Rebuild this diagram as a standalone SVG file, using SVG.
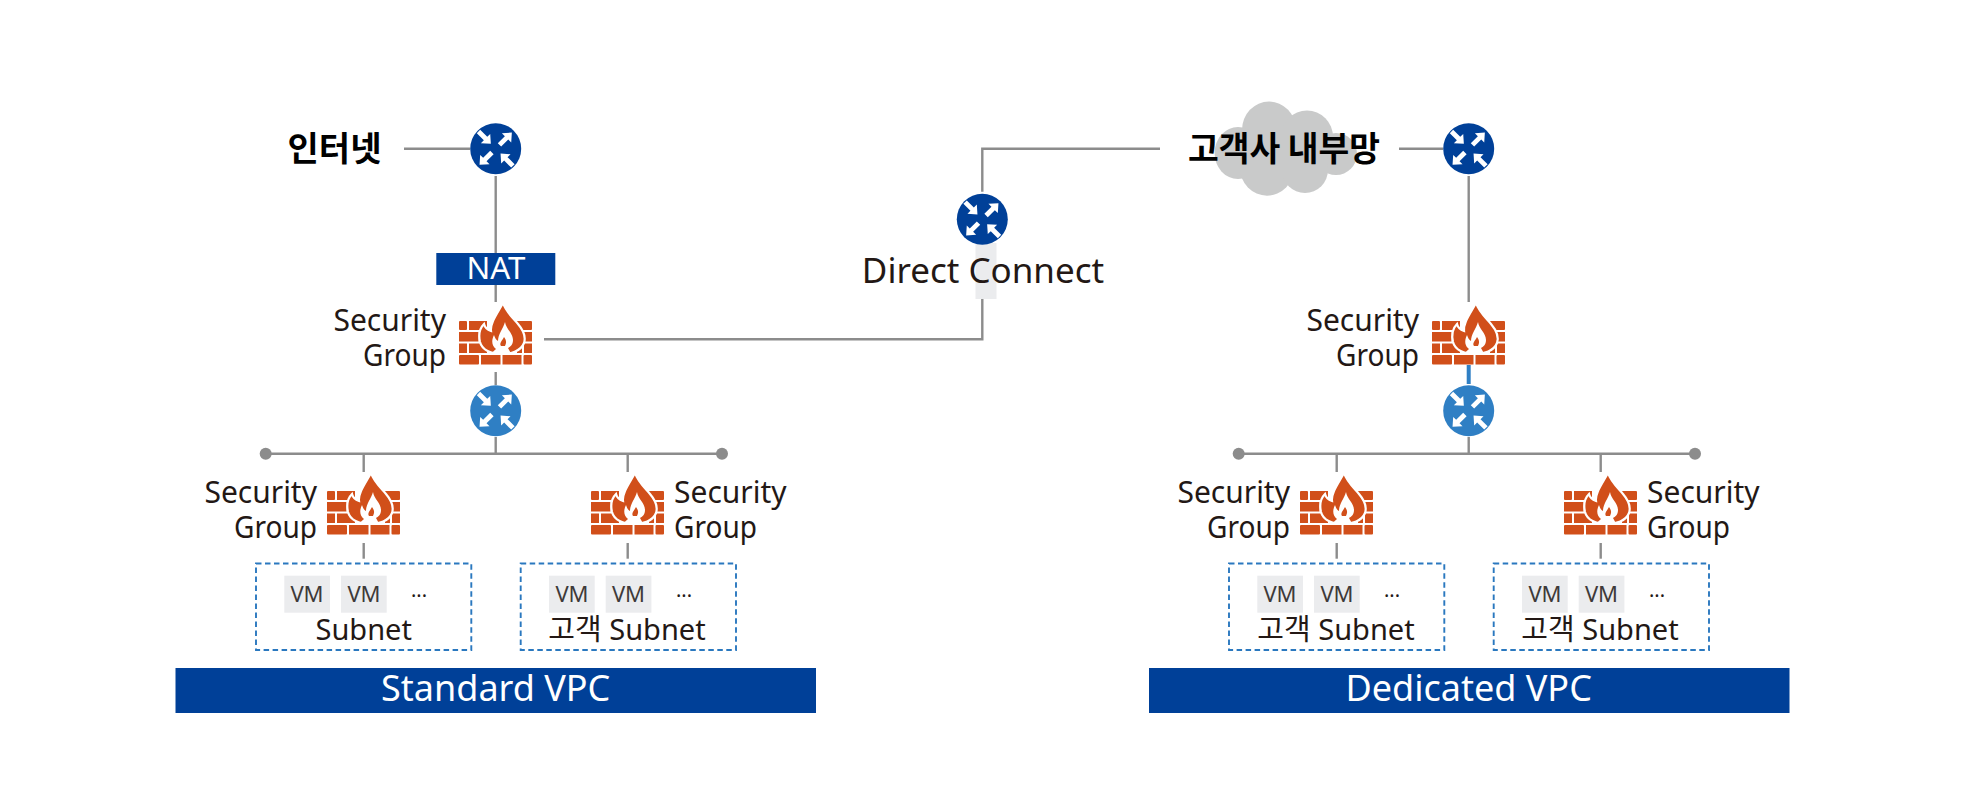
<svg xmlns="http://www.w3.org/2000/svg" xmlns:xlink="http://www.w3.org/1999/xlink" width="1980" height="812" viewBox="0 0 1980 812">
<style>
text{font-family:"Noto Sans","Noto Sans CJK KR",sans-serif;fill:#231815}
.sg{font-size:30px}
.r{text-anchor:end}
.m{text-anchor:middle}
.ko{font-family:"Noto Sans CJK KR","Noto Sans",sans-serif;font-weight:700;font-size:34px;fill:#000}
.sub{font-size:29px;text-anchor:middle}
.sub2{font-size:29px;text-anchor:middle;font-family:"Noto Sans","Noto Sans CJK KR",sans-serif}
.vm{font-size:22px;text-anchor:middle;fill:#3e3a39}
.dots{font-size:20px;text-anchor:middle}
.bar{fill:#004098}
.bt{font-size:36px;text-anchor:middle;fill:#fff}
.lines path{fill:none;stroke:#8c8c8c;stroke-width:2.4}
.box{fill:none;stroke:#2a78bf;stroke-width:1.9;stroke-dasharray:5.5 3.5}
.vmb{fill:#ebecee}
.brick{fill:#d14f1a}
</style>
<defs>
<g id="arrows" fill="#fff">
<polygon points="-9.5,-2.4 0.5,-2.4 0.5,-6.6 8,0 0.5,6.6 0.5,2.4 -9.5,2.4" transform="translate(10.5,-10.5) rotate(-45)"/>
<polygon points="-9.5,-2.4 0.5,-2.4 0.5,-6.6 8,0 0.5,6.6 0.5,2.4 -9.5,2.4" transform="translate(-10.5,-10.5) rotate(45)"/>
<polygon points="-9.5,-2.4 0.5,-2.4 0.5,-6.6 8,0 0.5,6.6 0.5,2.4 -9.5,2.4" transform="translate(-10.5,10.5) rotate(135)"/>
<polygon points="-9.5,-2.4 0.5,-2.4 0.5,-6.6 8,0 0.5,6.6 0.5,2.4 -9.5,2.4" transform="translate(10.5,10.5) rotate(225)"/>
</g>
<g id="r1"><circle r="25.5" fill="#004098"/><use xlink:href="#arrows" href="#arrows"/></g>
<g id="r2"><circle r="25.5" fill="#2f7fc4"/><use xlink:href="#arrows" href="#arrows"/></g>
<g id="fw">
<g class="brick">
<rect x="0" y="0" width="8" height="9" rx="1"/><rect x="10" y="0" width="18" height="9"/><rect x="50" y="0" width="23" height="9" rx="1"/>
<rect x="0" y="11" width="19.5" height="9.5"/><rect x="21.5" y="11" width="6" height="9.5"/><rect x="62" y="11" width="11" height="9.5"/>
<rect x="0" y="22.5" width="8" height="9.5"/><rect x="10" y="22.5" width="18" height="9.5"/><rect x="58" y="22.5" width="5" height="9.5"/><rect x="65" y="22.5" width="8" height="9.5"/>
<rect x="0" y="34" width="20" height="9.5" rx="1"/><rect x="22" y="34" width="19.5" height="9.5"/><rect x="43.5" y="34" width="19" height="9.5"/><rect x="64.5" y="34" width="8.5" height="9.5" rx="1"/>
</g>
<path d="M44,-18 C47,-9 54,-3 59,3 C65,10 67,16 65,22 C62,30 52,33 43,33 C32,33 23,29 21,21 C19,12 22,6 25,3 C26,7 29,9 32,10 C31,2 38,-7 44,-18Z" fill="#d14f1a" stroke="#fff" stroke-width="2.2"/>
<path d="M46,1 C47,8 54,12 54,19 C54,24 51,26 49,27 L52,32.5 L32,32.5 L37,28 C33,25 32,20 35,14 C36,17 37,19 39,20 C39,13 44,8 46,1Z" fill="#fff"/>
<path d="M45,16 C47,19 48,21 46,25 L42,25 C40,22 43,20 45,16Z" fill="#d14f1a"/>
</g>
</defs>

<g id="backdrops">
<g id="cloud-shape" fill="#c9caca">
<ellipse cx="1269" cy="130" rx="27" ry="28.5"/>
<ellipse cx="1307" cy="137" rx="26" ry="26.5"/>
<ellipse cx="1238" cy="153" rx="23.4" ry="26"/>
<ellipse cx="1336" cy="154" rx="21" ry="21"/>
<ellipse cx="1267" cy="168" rx="27" ry="27.7"/>
<ellipse cx="1305" cy="170" rx="23" ry="23"/>
<rect x="1250" y="130" width="70" height="40"/>
</g>
<rect id="dc-back" x="975.5" y="243" width="21" height="56" fill="#ebecee"/>
</g>

<g id="connectors" class="lines">
<path d="M404,148.7H470"/>
<path d="M495.7,176V253"/>
<path d="M495.7,285V302"/>
<path d="M495.7,372V385"/>
<path d="M544,339.3H982.3V299"/>
<path d="M982.3,191.7V148.7H1160"/>
<path d="M1399,148.7H1443"/>
<path d="M1468.7,176V302"/>
<path d="M495.7,437V453.7"/>
<path d="M265.7,453.7H722"/>
<path d="M363.7,453.7V472"/>
<path d="M627.7,453.7V472"/>
<path d="M363.7,543V558.7"/>
<path d="M627.7,543V558.7"/>
<path d="M1468.7,437V453.7"/>
<path d="M1238.7,453.7H1695"/>
<path d="M1336.7,453.7V472"/>
<path d="M1600.7,453.7V472"/>
<path d="M1336.7,543V558.7"/>
<path d="M1600.7,543V558.7"/>
<path d="M1468.7,365V384" style="stroke:#2f7fc4;stroke-width:4"/>
<circle cx="265.7" cy="453.7" r="6" fill="#8c8c8c"/>
<circle cx="722" cy="453.7" r="6" fill="#8c8c8c"/>
<circle cx="1238.7" cy="453.7" r="6" fill="#8c8c8c"/>
<circle cx="1695" cy="453.7" r="6" fill="#8c8c8c"/>
</g>

<g id="internet"><text class="ko" x="334.5" y="161" text-anchor="middle">인터넷</text></g>
<g id="router-internet"><use xlink:href="#r1" href="#r1" x="495.7" y="148.7"/></g>
<g id="nat"><rect class="bar" x="436.3" y="253" width="119" height="32"/><text class="m" x="496" y="279" font-size="31" textLength="59" lengthAdjust="spacingAndGlyphs" style="fill:#fff">NAT</text></g>
<g id="sg-left-top"><text class="sg r" x="446" y="331">Security</text><text class="sg r" x="446" y="366" textLength="83" lengthAdjust="spacingAndGlyphs">Group</text><use xlink:href="#fw" href="#fw" x="459" y="321"/></g>
<g id="router-left-inner"><use xlink:href="#r2" href="#r2" x="495.7" y="410.7"/></g>
<g id="router-dc"><use xlink:href="#r1" href="#r1" x="982.3" y="219.3"/></g>
<g id="direct-connect"><text class="m" x="983" y="283" font-size="35">Direct Connect</text></g>
<g id="customer-net"><text class="ko" x="1284" y="161" text-anchor="middle" textLength="192" lengthAdjust="spacingAndGlyphs">고객사 내부망</text></g>
<g id="router-customer"><use xlink:href="#r1" href="#r1" x="1468.7" y="148.7"/></g>
<g id="sg-right-top"><text class="sg r" x="1419" y="331">Security</text><text class="sg r" x="1419" y="366" textLength="83" lengthAdjust="spacingAndGlyphs">Group</text><use xlink:href="#fw" href="#fw" x="1432" y="321"/></g>
<g id="router-right-inner"><use xlink:href="#r2" href="#r2" x="1468.7" y="410.7"/></g>

<g id="sg-a"><text class="sg r" x="317" y="503">Security</text><text class="sg r" x="317" y="538" textLength="83" lengthAdjust="spacingAndGlyphs">Group</text><use xlink:href="#fw" href="#fw" x="327" y="491"/></g>
<g id="sg-b"><text class="sg" x="674" y="503">Security</text><text class="sg" x="674" y="538" textLength="83" lengthAdjust="spacingAndGlyphs">Group</text><use xlink:href="#fw" href="#fw" x="591" y="491"/></g>
<g id="sg-c"><text class="sg r" x="1290" y="503">Security</text><text class="sg r" x="1290" y="538" textLength="83" lengthAdjust="spacingAndGlyphs">Group</text><use xlink:href="#fw" href="#fw" x="1300" y="491"/></g>
<g id="sg-d"><text class="sg" x="1647" y="503">Security</text><text class="sg" x="1647" y="538" textLength="83" lengthAdjust="spacingAndGlyphs">Group</text><use xlink:href="#fw" href="#fw" x="1564" y="491"/></g>

<g id="subnet-a"><rect class="box" x="256" y="563.5" width="215.3" height="86.5"/>
<rect class="vmb" x="284.3" y="575.7" width="45.7" height="37"/><text class="vm" x="307" y="602">VM</text>
<rect class="vmb" x="341" y="575.7" width="45.7" height="37"/><text class="vm" x="364" y="602">VM</text>
<text class="dots" x="419" y="597">...</text><text class="sub" x="363.7" y="640">Subnet</text></g>
<g id="subnet-b"><rect class="box" x="520.7" y="563.5" width="215.3" height="86.5"/>
<rect class="vmb" x="549" y="575.7" width="45.7" height="37"/><text class="vm" x="572" y="602">VM</text>
<rect class="vmb" x="605.7" y="575.7" width="45.7" height="37"/><text class="vm" x="628.5" y="602">VM</text>
<text class="dots" x="684" y="597">...</text><text class="sub2" x="627" y="640">고객 Subnet</text></g>
<g id="subnet-c"><rect class="box" x="1229" y="563.5" width="215.3" height="86.5"/>
<rect class="vmb" x="1257.3" y="575.7" width="45.7" height="37"/><text class="vm" x="1280" y="602">VM</text>
<rect class="vmb" x="1314" y="575.7" width="45.7" height="37"/><text class="vm" x="1337" y="602">VM</text>
<text class="dots" x="1392" y="597">...</text><text class="sub2" x="1336" y="640">고객 Subnet</text></g>
<g id="subnet-d"><rect class="box" x="1493.7" y="563.5" width="215.3" height="86.5"/>
<rect class="vmb" x="1522" y="575.7" width="45.7" height="37"/><text class="vm" x="1545" y="602">VM</text>
<rect class="vmb" x="1578.7" y="575.7" width="45.7" height="37"/><text class="vm" x="1601.5" y="602">VM</text>
<text class="dots" x="1657" y="597">...</text><text class="sub2" x="1600" y="640">고객 Subnet</text></g>

<g id="vpc-standard"><rect class="bar" x="175.5" y="668" width="640.5" height="45"/><text class="bt" x="495.7" y="701">Standard VPC</text></g>
<g id="vpc-dedicated"><rect class="bar" x="1149" y="668" width="640.5" height="45"/><text class="bt" x="1468.7" y="701">Dedicated VPC</text></g>
</svg>
